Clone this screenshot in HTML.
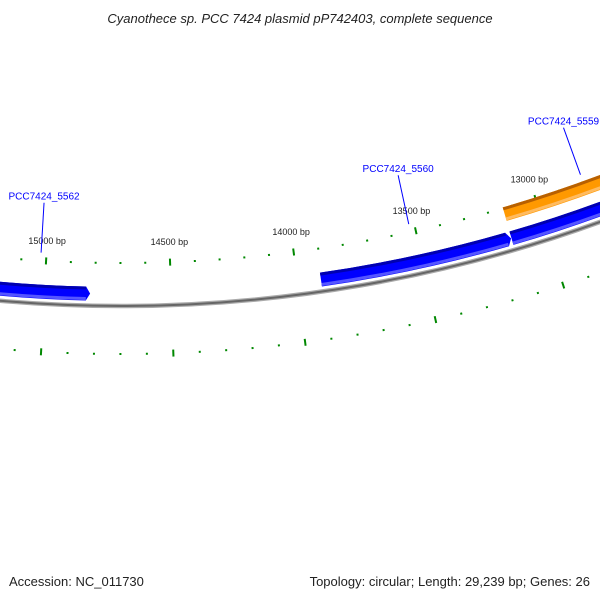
<!DOCTYPE html>
<html><head><meta charset="utf-8"><style>
body{margin:0;background:#fff;}
svg{display:block;font-family:"Liberation Sans",sans-serif;}
</style></head><body>
<svg id="map" width="600" height="600" viewBox="0 0 600 600">
<text x="300" y="23" text-anchor="middle" font-size="13" font-style="italic" fill="#222">Cyanothece sp. PCC 7424 plasmid pP742403, complete sequence</text>
<text x="9" y="586" font-size="13" fill="#222">Accession: NC_011730</text>
<text x="590" y="586" text-anchor="end" font-size="13" fill="#222">Topology: circular; Length: 29,239 bp; Genes: 26</text>
<g id="layer"></g>
</svg>
<script>
// data
const geneNames = ["PCC7424_5562", "PCC7424_5560", "PCC7424_5559b", "PCC7424_5559"];
const geneStart = [15900, 13907, 13138, 13137];
const geneEnd = [14836, 13156, 11800, 11800];
const geneArrow = [true, true, false, false];
const geneColor = ["blue", "blue", "blue", "orange"];
const labeledGenes = ["PCC7424_5562", "PCC7424_5560", "PCC7424_5559"];
const labelBp = [15022, 13522, 12797];
const majorTicks = [15000, 14500, 14000, 13500, 13000];
const majorTickLabels = ["15000 bp", "14500 bp", "14000 bp", "13500 bp", "13000 bp"];

const CX = 121, CY = -1100, K = 0.000182, B0 = 15000, PHI0 = -0.055;
const NS = "http://www.w3.org/2000/svg";
const layer = document.getElementById("layer");
function phi(bp){ return PHI0 + (B0 - bp) * K; }
function pt(r, p){ return [CX + r * Math.sin(p), CY + r * Math.cos(p)]; }
function mk(tag, attrs){ const e = document.createElementNS(NS, tag); for (const k in attrs) e.setAttribute(k, attrs[k]); layer.appendChild(e); return e; }
function arcPath(r, p1, p2){ const a = pt(r, p1), b = pt(r, p2); return `M${a[0]},${a[1]} A${r},${r} 0 0 ${p2 > p1 ? 0 : 1} ${b[0]},${b[1]}`; }

// backbone
const bbA = phi(16500), bbB = phi(11000);
let e = mk("path", {d: arcPath(1406, bbA, bbB), fill: "none", stroke: "#aaa", "stroke-width": 4.5});


e = mk("path", {d: arcPath(1406, bbA, bbB), fill: "none", stroke: "#666", "stroke-width": 2});



// ticks
for (let bp = 16500; bp >= 11000; bp -= 100) {
  const major = bp % 500 === 0;
  const p = phi(bp);
  [1363, 1454].forEach(r => {
    const len = major ? 3.5 : 1;
    const a = pt(r - len, p), b = pt(r + len, p);
    const t = mk("line", {x1: a[0], y1: a[1], x2: b[0], y2: b[1], stroke: "#080", "stroke-width": 2});
    
    
  });
}
majorTicks.forEach((bp, i) => {
  const q = pt(1343, phi(bp));
  const t = mk("text", {x: q[0], y: q[1] + 3, "text-anchor": "middle", "font-size": 9, fill: "#222"});
  t.textContent = majorTickLabels[i];
  
  
});

// genes
const colors = {blue: ["#0000b0", "#0000ff", "#5555ff"], orange: ["#b86000", "#ff9900", "#ffbb60"]};
geneNames.forEach((n, i) => {
  const ri = geneColor[i] === "orange" ? 1362 : 1387;
  const ro = ri + 14, rc = ri + 7;
  const p1 = phi(geneStart[i]), p2 = phi(geneEnd[i]);
  const tipP = geneArrow[i] ? p2 + 0.003 : p2;
  const a1 = pt(ri, p1), a2 = pt(ri, p2), t = pt(rc, tipP), b2 = pt(ro, p2), b1 = pt(ro, p1);
  const d = `M${a1[0]},${a1[1]} A${ri},${ri} 0 0 0 ${a2[0]},${a2[1]} L${t[0]},${t[1]} L${b2[0]},${b2[1]} A${ro},${ro} 0 0 1 ${b1[0]},${b1[1]} Z`;
  const c = colors[geneColor[i]];
  const g = mk("path", {d: d, fill: c[1]});
  
  
  const top = mk("path", {d: arcPath(ri + 1.5, p1, p2), fill: "none", stroke: c[0], "stroke-width": 3});
  
  
  const bot = mk("path", {d: arcPath(ro - 2, p1, p2), fill: "none", stroke: c[2], "stroke-width": 3});
  
  
});

// gene labels
labeledGenes.forEach((n, i) => {
  const p = phi(labelBp[i]);
  const a = pt(1355, p), b = pt(1305, p);
  const l = mk("line", {x1: a[0], y1: a[1], x2: b[0], y2: b[1], stroke: "#0000ff", "stroke-width": 1});
  
  
  const t = mk("text", {x: b[0], y: b[1] - 3, "text-anchor": "middle", "font-size": 10, fill: "#0000ff"});
  t.textContent = n;
  
  
});
</script>
</body></html>
